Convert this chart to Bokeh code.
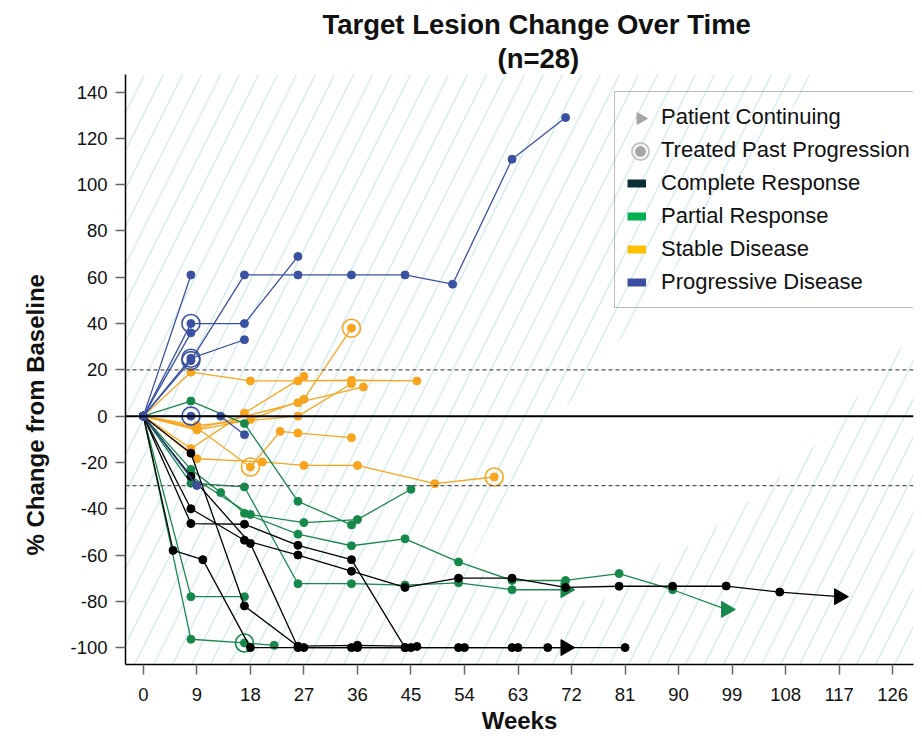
import numpy as np
from bokeh.plotting import figure
from bokeh.models import Span, Legend, LegendItem, FixedTicker, Title, Range1d
from bokeh.embed import file_html
from bokeh.resources import INLINE

# ---------------- data ----------------
x_ticks = list(range(0, 127, 9))
y_ticks = list(range(-100, 141, 20))

# Complete Response
cr_weeks = [[0, 8, 17, 26, 35, 44],
            [0, 8, 17, 26, 35, 44, 53, 62, 71, 80, 89, 98, 107, 117],
            [0, 8, 18, 26, 35, 44, 53, 62, 68, 81],
            [0, 8, 17, 26, 36, 46],
            [0, 5, 10, 18, 27, 36, 45, 54, 63, 71]]
cr_pct = [[0, -46.4, -46.7, -55.8, -62, -100],
          [0, -40, -53.6, -60, -67, -74, -70, -70, -74, -73.5, -73.5, -73.4, -76, -78],
          [0, -26, -55, -100, -100, -100, -100, -100, -100, -100],
          [0, -16, -82, -99.4, -99, -99.5],
          [0, -58, -62, -100, -100, -100, -100, -100, -100, -100]]
cr_tpp = [None, None, None, None, None]
cr_cont = [False, True, False, False, True]

# Partial Response
pr_weeks = [[0, 8, 17, 26, 35],
            [0, 8, 18, 27, 36, 45],
            [0, 8, 13, 17, 26, 35, 44, 53, 62, 71, 80, 89, 98],
            [0, 8, 17, 26, 35, 44, 53, 62, 71],
            [0, 8, 17],
            [0, 8, 17, 22]]
pr_pct = [[0, 6.5, -3.2, -36.8, -47],
          [0, -26, -42.5, -46, -44.7, -31.6],
          [0, -23, -33, -42, -51, -56, -53, -63, -71, -71, -68, -75, -83.5],
          [0, -29, -30.6, -72.4, -72.4, -73, -72, -75, -75],
          [0, -78, -78],
          [0, -96.4, -98, -99]]
pr_tpp = [None, None, None, None, None, 2]
pr_cont = [False, False, True, True, False, False]

# Stable Disease
sd_weeks = [[0, 8, 18, 26, 35, 46],
            [0, 9, 18, 27, 35],
            [0, 9, 18, 23, 26, 35],
            [0, 9, 20, 27, 36, 49, 59],
            [0, 8, 17, 27],
            [0, 9, 26, 37],
            [0, 9, 26, 35]]
sd_pct = [[0, 19, 15.2, 15.2, 15.5, 15.2],
          [0, -6, -1.5, 7.3, 38],
          [0, -5, -22, -6.6, -7.3, -9.3],
          [0, -18.4, -19.8, -21.3, -21.3, -29.2, -26.3],
          [0, -14, 1.3, 17.2],
          [0, -5.4, 5.8, 12.6],
          [0, -4, 0, 14]]
sd_tpp = [None, 4, 2, 6, None, None, None]
sd_cont = [False] * 7

# Progressive Disease
pd_weeks = [[0, 8],
            [0, 8, 17, 26],
            [0, 8],
            [0, 8, 17],
            [0, 8, 17, 26, 35, 44, 52, 62, 71],
            [0, 8, 13, 17],
            [0, 9]]
pd_pct = [[0, 61],
          [0, 40, 40, 69],
          [0, 36],
          [0, 25, 33],
          [0, 24, 61, 61, 61, 61, 57, 111, 129],
          [0, 0, 0, -8],
          [0, -30]]
pd_tpp = [None, 1, None, 1, 1, 1, None]
pd_cont = [False] * 7

ref_upper = 20
ref_lower = -30

# ---------------- styles / layout ----------------
FONT = "Liberation Sans"
C_CR, C_PR, C_SD, C_PD = "#000000", "#16894a", "#f8a51d", "#3a51a3"
L_CR, L_PR, L_SD, L_PD = "#0b2f37", "#00b050", "#ffc000", "#3a4ea2"
KEY_GREY = "#a6a6a6"

W, H = 922, 736
BL, BR, BT, BB = 125, 9, 74, 72          # frame borders in px
X0, X1, Y0, Y1 = -3, 129.5, -107.3, 147.6
FW, FH = W - BL - BR, H - BT - BB


def px_to_data(px, py):
    """screen pixel (from canvas top-left) -> data coordinates, for legend keys"""
    return X0 + (px - BL) / FW * (X1 - X0), Y1 - (py - BT) / FH * (Y1 - Y0)


p = figure(width=W, height=H, x_range=Range1d(X0, X1), y_range=Range1d(Y0, Y1),
           output_backend="svg", toolbar_location=None,
           min_border_left=BL, min_border_right=BR, min_border_top=BT, min_border_bottom=BB)
p.outline_line_color = None
p.grid.visible = False
p.background_fill_color = "white"
p.border_fill_color = "white"

# decorative hatched background with a white diagonal band
p.quad(left=[X0], right=[X1], bottom=[Y0], top=[Y1], fill_color=None, line_color=None,
       hatch_pattern="/", hatch_color="#d6ecef", hatch_weight=1.5, hatch_scale=38)
band_x = [55.1, 64.0, 85.4, 103.9, 114.0, 130, 130, 110.6, 93.8, 77.0, 63.5]
band_y = [-62.3, -19.1, 49.9, 114.8, 150, 150, 37.1, -19.1, -52.3, -79.6, -79.6]
p.patch(band_x, band_y, fill_color="white", line_color=None)

# reference lines
p.add_layout(Span(location=ref_upper, dimension="width", line_color="#555555", line_dash="4 3", line_width=1.3))
p.add_layout(Span(location=ref_lower, dimension="width", line_color="#555555", line_dash="4 3", line_width=1.3))
p.add_layout(Span(location=0, dimension="width", line_color="black", line_width=2))


def draw_group(weeks, pct, tpp, cont, color):
    p.multi_line(xs=weeks, ys=pct, line_color=color, line_width=1.3)
    dx, dy, tx, ty, rx, ry = [], [], [], [], [], []
    for w, v, t, c in zip(weeks, pct, tpp, cont):
        n = len(w)
        for i in range(n):
            if c and i == n - 1:
                tx.append(w[i]); ty.append(v[i])
            else:
                dx.append(w[i]); dy.append(v[i])
        if t is not None:
            rx.append(w[t]); ry.append(v[t])
    p.scatter(dx, dy, marker="circle", size=8, fill_color=color, line_color=color)
    if tx:
        p.scatter(tx, ty, marker="triangle", angle=-np.pi / 2, size=16, fill_color=color, line_color=color)
    if rx:
        p.scatter(rx, ry, marker="circle", size=18, fill_color=None, line_color=color, line_width=1.6)


draw_group(sd_weeks, sd_pct, sd_tpp, sd_cont, C_SD)
draw_group(pr_weeks, pr_pct, pr_tpp, pr_cont, C_PR)
draw_group(cr_weeks, cr_pct, cr_tpp, cr_cont, C_CR)
draw_group(pd_weeks, pd_pct, pd_tpp, pd_cont, C_PD)

# axes
for ax in (p.xaxis, p.yaxis):
    ax.axis_line_color = "black"
    ax.axis_line_width = 1.5
    ax.major_tick_line_color = "#666666"
    ax.major_tick_line_width = 1.5
    ax.major_tick_out = 10
    ax.major_tick_in = 0
    ax.minor_tick_line_color = None
    ax.major_label_text_font = FONT
    ax.major_label_text_font_size = "18.5px"
    ax.major_label_text_color = "#111111"
p.xaxis.ticker = FixedTicker(ticks=x_ticks)
p.yaxis.ticker = FixedTicker(ticks=y_ticks)
p.yaxis.major_label_overrides = {v: str(v) for v in y_ticks}
p.xaxis.major_label_standoff = 13
p.yaxis.major_label_standoff = 8
p.xaxis.axis_label = "Weeks"
p.xaxis.axis_label_text_font = FONT
p.xaxis.axis_label_text_font_size = "24px"
p.xaxis.axis_label_text_font_style = "bold"
p.xaxis.axis_label_text_color = "#111111"
p.xaxis.axis_label_standoff = 3

# y axis title (side title so it can be shifted along the axis)
p.add_layout(Title(text="% Change from Baseline", align="left", offset=109, text_font=FONT,
                   text_font_size="24px", text_font_style="bold", text_color="#111111",
                   standoff=38), "left")

# titles
p.add_layout(Title(text="(n=28)", align="left", offset=372, text_font=FONT, text_font_size="27.5px",
                   text_font_style="bold", text_color="#111111", standoff=2), "above")
p.add_layout(Title(text="Target Lesion Change Over Time", align="left", offset=197, text_font=FONT,
                   text_font_size="27.5px", text_font_style="bold", text_color="#111111", standoff=0), "above")

# legend (proxy renderers placed outside the visible ranges)
r_tri = p.scatter([-1000], [-1000], marker="circle", size=1, fill_alpha=0, line_alpha=0)
r_circ = p.scatter([-1000], [-1000], marker="circle", size=1, fill_alpha=0, line_alpha=0)
r_cr = p.line([-1000, -999], [-1000, -1000], line_color=L_CR, line_width=8)
r_pr = p.line([-1000, -999], [-1000, -1000], line_color=L_PR, line_width=8)
r_sd = p.line([-1000, -999], [-1000, -1000], line_color=L_SD, line_width=8)
r_pd = p.line([-1000, -999], [-1000, -1000], line_color=L_PD, line_width=8)

LEG_X, LEG_Y = 489, 356
legend = Legend(items=[LegendItem(label="Patient Continuing", renderers=[r_tri]),
                       LegendItem(label="Treated Past Progression", renderers=[r_circ]),
                       LegendItem(label="Complete Response", renderers=[r_cr]),
                       LegendItem(label="Partial Response", renderers=[r_pr]),
                       LegendItem(label="Stable Disease", renderers=[r_sd]),
                       LegendItem(label="Progressive Disease", renderers=[r_pd])],
                location=(LEG_X, LEG_Y), orientation="vertical")
legend.label_text_font = FONT
legend.label_text_font_size = "22px"
legend.label_text_color = "#111111"
legend.label_height = 26
legend.glyph_height = 26
legend.glyph_width = 19
legend.spacing = 7
legend.padding = 12
legend.label_standoff = 15
legend.border_line_color = "#777777"
legend.border_line_width = 1.5
legend.background_fill_alpha = 0
legend.margin = 0
p.add_layout(legend)

# legend keys for the two marker entries (right-pointing triangle, ringed dot)
leg_h = 2 * 12 + 6 * 26 + 5 * 7
leg_top = H - BB - LEG_Y - leg_h
key_px = BL + LEG_X + 12 + 14
kx0, ky0 = px_to_data(key_px, leg_top + 12 + 13)
kx1, ky1 = px_to_data(key_px, leg_top + 12 + 13 + 33)
p.scatter([kx0], [ky0], marker="triangle", angle=-np.pi / 2, size=12, fill_color=KEY_GREY, line_color=KEY_GREY)
p.scatter([kx1], [ky1], marker="circle", size=10, fill_color=KEY_GREY, line_color=KEY_GREY)
p.scatter([kx1], [ky1], marker="circle", size=17, fill_color=None, line_color="#c4c4c4", line_width=2)

open("out.html", "w").write(file_html(p, INLINE))
